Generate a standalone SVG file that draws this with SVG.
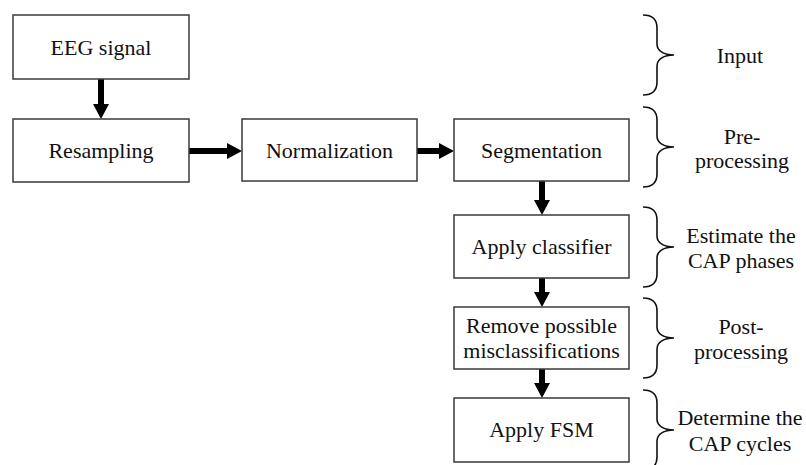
<svg xmlns="http://www.w3.org/2000/svg" width="806" height="465" viewBox="0 0 806 465" font-family="Liberation Serif" font-size="22">
  <style>
    .box { fill: #ffffff; stroke: #3a3a3a; stroke-width: 1.5; }
    text { fill: #111111; text-anchor: middle; }
    .shaft { stroke: #000000; stroke-width: 6; fill: none; }
    .brace { fill: none; stroke: #111111; stroke-width: 1.6; }
  </style>
  <defs>
    <marker id="head" markerUnits="userSpaceOnUse" markerWidth="16" markerHeight="16" viewBox="0 0 15 16" refX="0" refY="8" orient="auto">
      <path d="M0,0 L15,8 L0,16 Z" fill="#000000"/>
    </marker>
    <path id="brace" d="M0,0 C9,0 14,4 14,13 L14,29 C14,36 21,40 31,40 C21,40 14,44 14,51 L14,67 C14,76 9,80 0,80"/>
  </defs>

  <rect width="806" height="465" fill="#ffffff"/>

  <!-- connectors -->
  <g id="connectors">
    <line class="shaft" x1="101" y1="79" x2="101" y2="104" marker-end="url(#head)"/>
    <line class="shaft" x1="189" y1="151" x2="227" y2="151" marker-end="url(#head)"/>
    <line class="shaft" x1="417" y1="151" x2="439" y2="151" marker-end="url(#head)"/>
    <line class="shaft" x1="542" y1="181" x2="542" y2="200" marker-end="url(#head)"/>
    <line class="shaft" x1="542" y1="278" x2="542" y2="292" marker-end="url(#head)"/>
    <line class="shaft" x1="542" y1="369" x2="542" y2="383" marker-end="url(#head)"/>
  </g>

  <!-- process nodes -->
  <g id="eeg">
    <rect class="box" x="13" y="15" width="176" height="64"/>
    <text x="101" y="55">EEG signal</text>
  </g>
  <g id="resampling">
    <rect class="box" x="13" y="119" width="176" height="63"/>
    <text x="101" y="158">Resampling</text>
  </g>
  <g id="normalization">
    <rect class="box" x="242" y="119" width="175" height="62"/>
    <text x="329.5" y="158">Normalization</text>
  </g>
  <g id="segmentation">
    <rect class="box" x="454" y="119" width="175" height="62"/>
    <text x="541.5" y="158">Segmentation</text>
  </g>
  <g id="classifier">
    <rect class="box" x="454" y="215" width="175" height="63"/>
    <text x="541.5" y="254">Apply classifier</text>
  </g>
  <g id="remove">
    <rect class="box" x="454" y="307" width="175" height="62"/>
    <text x="541.5" y="333">Remove possible</text>
    <text x="541.5" y="358">misclassifications</text>
  </g>
  <g id="fsm">
    <rect class="box" x="454" y="398" width="175" height="64"/>
    <text x="541.5" y="437">Apply FSM</text>
  </g>

  <!-- stage braces and labels -->
  <g id="stage-input">
    <use href="#brace" class="brace" x="643" y="15"/>
    <text x="740" y="63">Input</text>
  </g>
  <g id="stage-pre">
    <use href="#brace" class="brace" x="643" y="107"/>
    <text x="742" y="144">Pre-</text>
    <text x="742" y="168">processing</text>
  </g>
  <g id="stage-estimate">
    <use href="#brace" class="brace" x="643" y="207"/>
    <text x="741" y="243">Estimate the</text>
    <text x="741" y="268">CAP phases</text>
  </g>
  <g id="stage-post">
    <use href="#brace" class="brace" x="643" y="298"/>
    <text x="741" y="334">Post-</text>
    <text x="741" y="359">processing</text>
  </g>
  <g id="stage-fsm">
    <use href="#brace" class="brace" x="643" y="390"/>
    <text x="740" y="425">Determine the</text>
    <text x="740" y="451">CAP cycles</text>
  </g>
</svg>
